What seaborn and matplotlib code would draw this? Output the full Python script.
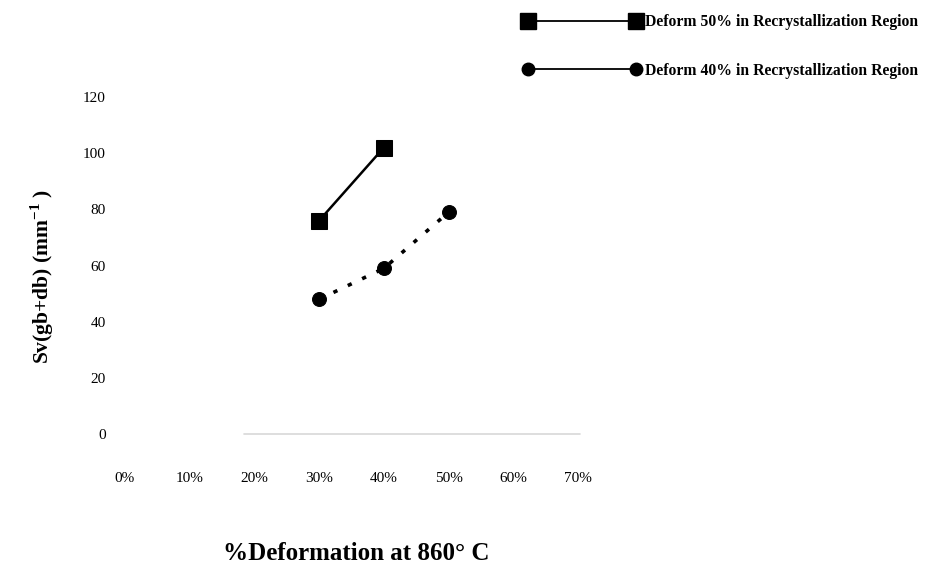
import matplotlib
matplotlib.use("Agg")
import matplotlib.pyplot as plt
from matplotlib.lines import Line2D
import seaborn as sns
import pandas as pd

# ---- data ----
x50 = [0.30, 0.40]
y50 = [76, 102]
x40 = [0.30, 0.40, 0.50]
y40 = [48, 59, 79]
series_names = ["Deform 50% in Recrystallization Region",
                "Deform 40% in Recrystallization Region"]
x_ticks = [0.0, 0.1, 0.2, 0.3, 0.4, 0.5, 0.6, 0.7]
x_tick_labels = ["0%", "10%", "20%", "30%", "40%", "50%", "60%", "70%"]
y_ticks = [0, 20, 40, 60, 80, 100, 120]

sns.set_theme(style="white")
plt.rcParams["font.family"] = ["Liberation Serif", "DejaVu Serif"]
plt.rcParams["mathtext.fontset"] = "custom"
plt.rcParams["mathtext.rm"] = "Liberation Serif"
plt.rcParams["mathtext.bf"] = "Liberation Serif:bold"
plt.rcParams["text.color"] = "black"
plt.rcParams["axes.labelcolor"] = "black"
plt.rcParams["xtick.color"] = "black"
plt.rcParams["ytick.color"] = "black"

df50 = pd.DataFrame({"x": x50, "y": y50})
df40 = pd.DataFrame({"x": x40, "y": y40})

fig = plt.figure(figsize=(9.47, 5.70), dpi=100)
ax = fig.add_axes([0.1251, 0.1842, 0.4921, 0.6554])

sns.lineplot(data=df50, x="x", y="y", ax=ax, color="black", lw=1.8,
             marker="s", markersize=11.5, markeredgecolor="black")
sns.lineplot(data=df40, x="x", y="y", ax=ax, color="black", lw=2.6,
             linestyle=(0, (1.2, 3.2)), marker="o", markersize=10,
             markeredgecolor="black")

ax.axhline(0, xmin=0.27, xmax=0.99, color="#d8d8d8", lw=1.2, zorder=0)

ax.set_xlim(-0.01, 0.71)
ax.set_ylim(-11, 122)
ax.set_xticks(x_ticks)
ax.set_xticklabels(x_tick_labels)
ax.set_yticks(y_ticks)
for s in ax.spines.values():
    s.set_visible(False)
ax.tick_params(axis="x", length=0, pad=5, labelsize=11)
ax.tick_params(axis="y", length=4, direction="in", color="#cccccc",
               labelcolor="black", pad=9, labelsize=11)
ax.set_xlabel("")
ax.set_ylabel("")

fig.text(42 / 947, 1 - 277 / 570, r"Sv(gb+db) (mm$^{\mathbf{-1}}$ )",
         rotation=90, ha="center", va="center", fontsize=15.5,
         fontweight="bold")
fig.text(356 / 947, 1 - 553 / 570, "%Deformation at 860° C",
         ha="center", va="center", fontsize=18, fontweight="bold")

handles = [
    Line2D([], [], color="black", lw=1.3, marker="s", markersize=11),
    Line2D([], [], color="black", lw=1.3, marker="o", markersize=9),
]
fig.legend(handles, series_names, loc="upper left",
           bbox_to_anchor=(523 / 947, 1 - 14 / 570), frameon=False,
           numpoints=2, handlelength=7.5, handletextpad=0.3,
           labelspacing=2.1, borderpad=0, borderaxespad=0,
           prop={"family": "Liberation Serif", "weight": "bold", "size": 11.3})

fig.savefig("out.png", dpi=100, facecolor="white")
